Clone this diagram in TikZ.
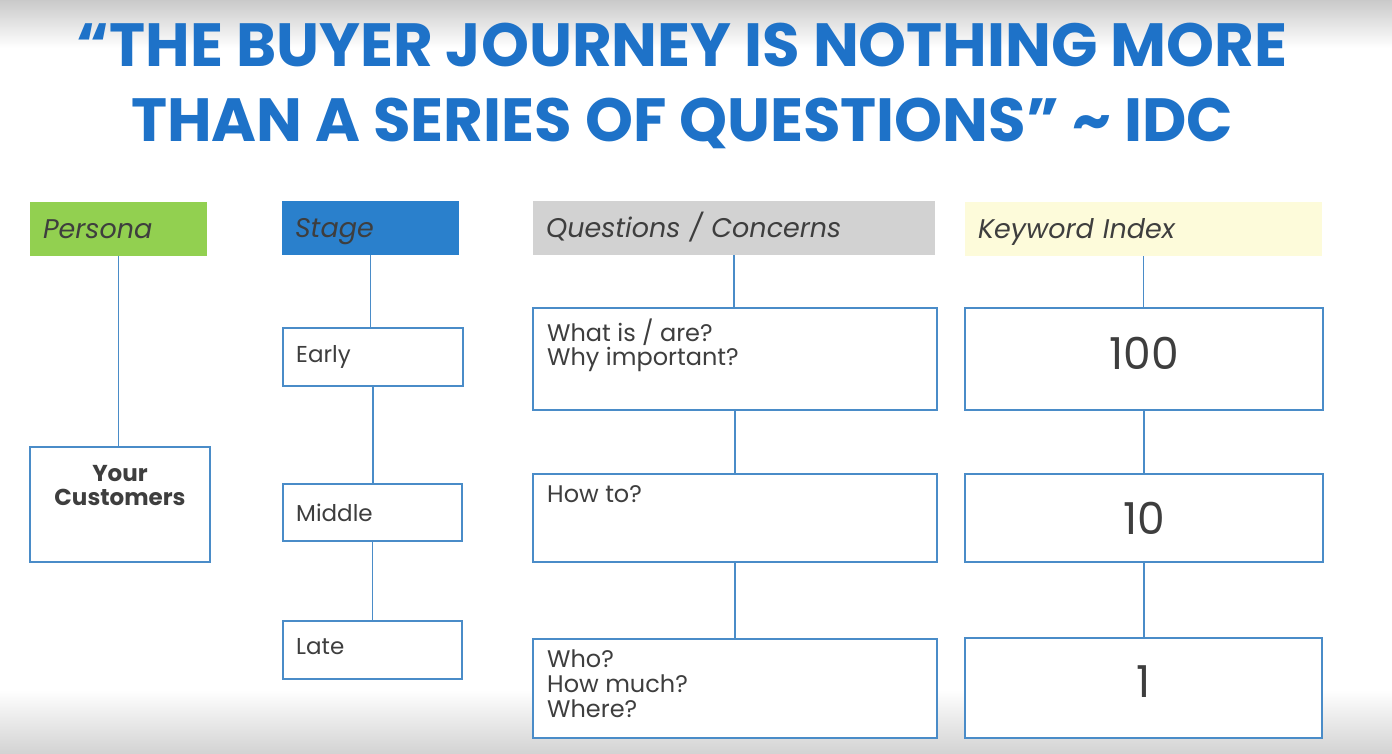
\documentclass[tikz,border=0pt]{standalone}
\usepackage{fontspec}
\setmainfont{Poppins}
\usepackage{tikz}
\usetikzlibrary{positioning, calc}

\definecolor{titleblue}{RGB}{30, 114, 200}
\definecolor{personagreen}{RGB}{146, 208, 80}
\definecolor{stageblue}{RGB}{42, 128, 204}
\definecolor{questgray}{RGB}{210, 210, 210}
\definecolor{keyyellow}{RGB}{253, 251, 218}
\definecolor{lineblue}{RGB}{74, 140, 200}
\definecolor{inkgray}{RGB}{62, 62, 62}

\tikzset{
  headbox/.style={fill=#1, minimum height=54pt, inner xsep=13pt, inner ysep=0pt, align=left,
    text height=20pt, text depth=1pt,
    font=\fontsize{27}{30}\selectfont\itshape, text=inkgray},
  framebox/.style={draw=lineblue, line width=2pt, fill=white, inner sep=0pt},
  stagetext/.style={font=\fontsize{23}{24}\selectfont, text=inkgray, inner sep=0pt},
  bignum/.style={font=\fontsize{44}{48}\selectfont, text=inkgray},
  link/.style={draw=lineblue, line width=1.8pt}
}

\begin{document}
\begin{tikzpicture}[x=1pt, y=-1pt]
  \useasboundingbox (0,0) rectangle (1392,754);

  % backdrop
  \fill[top color=gray!42, bottom color=white] (0,0) rectangle (1392,48);
  \fill[white] (0,48) rectangle (1392,690);
  \fill[top color=white, bottom color=gray!35] (0,690) rectangle (1392,754);

  % Title
  \node[font=\fontsize{61}{75}\selectfont\bfseries, text=titleblue, align=center] (title) at (682, 86)
    {“THE BUYER JOURNEY IS NOTHING MORE\\THAN A SERIES OF QUESTIONS” \textasciitilde{} IDC};

  % Headers
  \node[headbox=personagreen, text width=151pt] (persona) at (118.5, 229) {Persona};
  \node[headbox=stageblue, text width=151pt] (stage) at (370.5, 228) {Stage};
  \node[headbox=questgray, text width=376pt] (quest) at (734, 228) {Questions / Concerns};
  \node[headbox=keyyellow, text width=331pt] (keyw) at (1143.5, 229) {Keyword Index};

  % Persona
  \node[framebox, minimum width=180pt, minimum height=115pt] (cust) at (120, 504.5) {};
  \node[font=\fontsize{23}{24}\selectfont\bfseries, text=inkgray, align=center, anchor=north] (custtxt)
    at ([yshift=-16pt]cust.north) {Your\\Customers};

  % Stage
  \node[framebox, minimum width=180pt, minimum height=58pt] (early) at (373, 357) {};
  \node[framebox, minimum width=179pt, minimum height=57pt] (middle) at (372.5, 512.5) {};
  \node[framebox, minimum width=179pt, minimum height=58pt] (late) at (372.5, 650) {};
  \node[stagetext, anchor=west] (earlytxt) at ([xshift=14pt]early.west) {Early};
  \node[stagetext, anchor=west] (middletxt) at ([xshift=14pt]middle.west) {Middle};
  \node[stagetext, anchor=west] (latetxt) at ([xshift=14pt, yshift=3pt]late.west) {Late};

  % Questions / Concerns
  \node[framebox, minimum width=404pt, minimum height=102pt] (q1) at (735, 359) {};
  \node[framebox, minimum width=404pt, minimum height=88pt] (q2) at (735, 518) {};
  \node[framebox, minimum width=404pt, minimum height=99pt] (q3) at (735, 688.5) {};
  \node[stagetext, align=left, anchor=north west, font=\fontsize{24}{24}\selectfont] (q1txt)
    at ([xshift=15pt, yshift=-12pt]q1.north west) {What is / are?\\Why important?};
  \node[stagetext, align=left, anchor=north west, font=\fontsize{24}{24}\selectfont] (q2txt)
    at ([xshift=15pt, yshift=-12pt]q2.north west) {How to?};
  \node[stagetext, align=left, anchor=north west, font=\fontsize{24}{25}\selectfont] (q3txt)
    at ([xshift=15pt, yshift=-12pt]q3.north west) {Who?\\How much?\\Where?};

  % Keyword Index
  \node[framebox, bignum, text depth=12pt, minimum width=358pt, minimum height=102pt] (k1) at (1144, 359) {100};
  \node[framebox, bignum, minimum width=358pt, minimum height=88pt] (k2) at (1144, 518) {10};
  \node[framebox, bignum, text depth=12pt, minimum width=357pt, minimum height=100pt] (k3) at (1143.5, 688) {1};

  % Connectors
  \draw[link] (persona.south) -- (persona.south |- cust.north);
  \draw[link] (stage.south) -- (stage.south |- early.north);
  \draw[link] (early.south) -- (early.south |- middle.north);
  \draw[link] (middle.south) -- (late.north);
  \draw[link] (quest.south) -- (quest.south |- q1.north);
  \draw[link] (q1.south) -- (q2.north);
  \draw[link] (q2.south) -- (q3.north);
  \draw[link] (keyw.south) -- (keyw.south |- k1.north);
  \draw[link] (k1.south) -- (k1.south |- k2.north);
  \draw[link] (k2.south) -- (k2.south |- k3.north);
\end{tikzpicture}
\end{document}
